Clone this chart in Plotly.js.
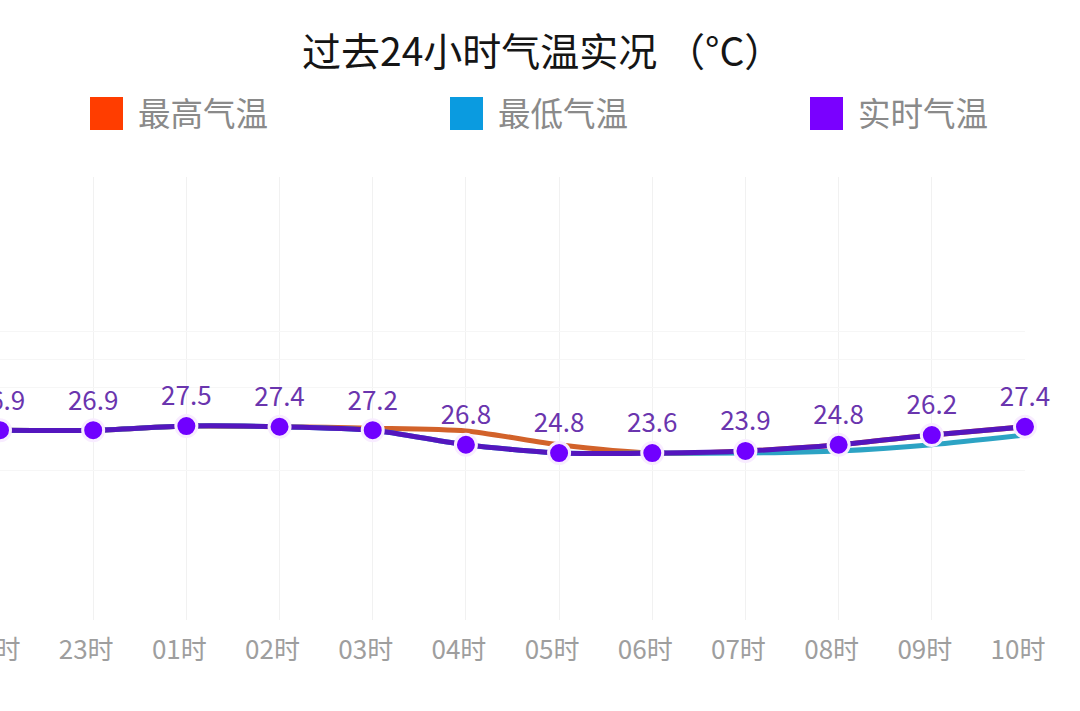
<!DOCTYPE html>
<html><head><meta charset="utf-8">
<script src="https://cdn.plot.ly/plotly-3.0.1.min.js"></script>
<style>html,body{margin:0;padding:0;background:#fff;overflow:hidden}#c{width:1080px;height:711px}</style>
</head><body><div id="c"></div>
<script>
const hours = ['22时','23时','01时','02时','03时','04时','05时','06时','07时','08时','09时','10时'];
const maxTemp = [26.9,26.9,27.5,27.4,27.2,26.8,24.8,23.6,23.9,24.8,26.2,27.4];
const minTemp = [26.9,26.9,27.5,27.4,26.9,24.8,23.6,23.6,23.6,23.9,24.8,26.2];
const nowTemp = [26.9,26.9,27.5,27.4,26.9,24.8,23.6,23.6,23.9,24.8,26.2,27.4];
const pointLabels = ['26.9','26.9','27.5','27.4','27.2','26.8','24.8','23.6','23.9','24.8','26.2','27.4'];
const seriesNames = ['最高气温','最低气温','实时气温'];
const legendColors = ['#FF3D00','#0A9BE0','#7A00FF'];
const lineColors = ['#D2622A','#2CA3C4','#5416BE'];
const gridVals = [41.23,37.18,33.14,21.14];

const W=1080,H=711,L=0,R=55,T=177,B=91;
const px=x=>(x-L)/(W-L-R), py=y=>1-(y-T)/(H-T-B);
const idx=hours.map((_,i)=>i);
const font='"Noto Sans CJK SC","Noto Sans",sans-serif';

const line=(y,i)=>({x:idx,y:y,name:seriesNames[i],type:'scatter',mode:'lines',
  line:{color:lineColors[i],width:5,shape:'spline',smoothing:0.7},hoverinfo:'skip',cliponaxis:false});
const traces=[
  line(maxTemp,0),line(minTemp,1),line(nowTemp,2),
  {x:idx,y:nowTemp,name:seriesNames[2],type:'scatter',mode:'markers',
   marker:{color:'#7000FF',size:21,line:{color:'#F8ECFF',width:3}},cliponaxis:false},
  {x:idx,y:nowTemp,type:'scatter',mode:'markers+text',text:pointLabels,textposition:'top center',
   textfont:{family:font,size:26,color:'#6A35AE'},
   marker:{size:21,opacity:0},cliponaxis:false}
];
const legendX=[90,450,810];
const shapes=legendX.map((x,i)=>({type:'rect',xref:'paper',yref:'paper',
  x0:px(x),x1:px(x+33),y0:py(130),y1:py(97),fillcolor:legendColors[i],line:{width:0}}));
const annotations=legendX.map((x,i)=>({xref:'paper',yref:'paper',x:px(x+46),y:py(112),
  xanchor:'left',yanchor:'middle',showarrow:false,text:seriesNames[i],
  font:{family:font,size:32.5,color:'#8A8A8A'}}));

Plotly.newPlot('c',traces,{
  width:W,height:H,showlegend:false,paper_bgcolor:'#fff',plot_bgcolor:'#fff',
  margin:{l:L,r:R,t:T,b:B},
  title:{text:'过去24小时气温实况 （°C）',x:302/W,xref:'container',xanchor:'left',
    y:1-52/H,yref:'container',yanchor:'middle',font:{family:font,size:39,color:'#151515'}},
  xaxis:{range:[0,11],tickmode:'array',tickvals:idx,ticktext:hours,showgrid:true,gridcolor:'#F1F1F1',gridwidth:1,
    zeroline:false,showline:false,ticks:'',ticklabelshift:-7,ticklabelstandoff:12,ticklabeloverflow:'allow',
    tickfont:{family:font,size:26,color:'#9E9E9E'}},
  yaxis:{range:[-0.53,63.5],tickmode:'array',tickvals:gridVals,showticklabels:false,showgrid:true,gridcolor:'#F6F6F6',gridwidth:1,
    zeroline:false,showline:false,ticks:''},
  shapes:shapes,annotations:annotations
},{displayModeBar:false,staticPlot:true});
</script></body></html>
